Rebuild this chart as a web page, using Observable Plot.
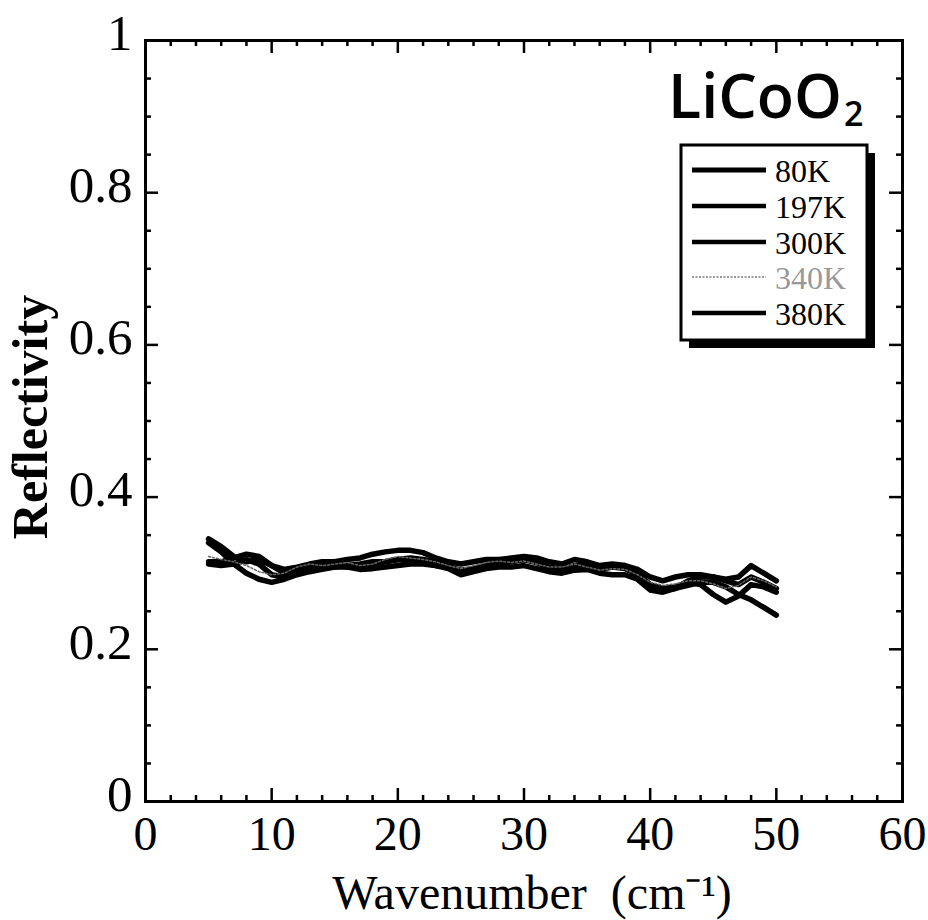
<!DOCTYPE html>
<html>
<head>
<meta charset="utf-8">
<script src="https://cdn.jsdelivr.net/npm/d3@7"></script>
<script src="https://cdn.jsdelivr.net/npm/@observablehq/plot@0.6"></script>
<style>
  body { margin: 0; background: #fff; }
  #chart { position: relative; width: 928px; height: 920px; }
</style>
</head>
<body>
<div id="chart"></div>
<script>
// ---- data ----
const wavenumber = [5,6,7,8,9,10,11,12,13,14,15,16,17,18,19,20,21,22,23,24,25,26,27,28,29,30,31,32,33,34,35,36,37,38,39,40,41,42,43,44,45,46,47,48,49,50];
const r80K  = [.345,.335,.322,.315,.318,.31,.305,.308,.312,.315,.315,.318,.32,.325,.328,.33,.33,.327,.32,.315,.312,.315,.318,.318,.32,.322,.32,.315,.312,.318,.315,.31,.312,.31,.305,.295,.29,.295,.298,.298,.295,.292,.295,.31,.30,.29];
const r197K = [.315,.315,.32,.325,.322,.31,.30,.302,.308,.31,.308,.31,.312,.315,.315,.318,.32,.318,.315,.31,.302,.305,.31,.312,.315,.318,.315,.308,.305,.31,.31,.305,.308,.31,.30,.285,.28,.282,.288,.285,.272,.262,.27,.285,.282,.275];
const r300K = [.34,.328,.312,.30,.292,.288,.292,.298,.302,.305,.308,.308,.305,.306,.308,.31,.312,.312,.31,.306,.298,.302,.306,.308,.308,.31,.306,.302,.30,.304,.305,.30,.298,.298,.292,.278,.275,.28,.29,.295,.295,.29,.285,.295,.288,.28];
const r340K = [.322,.318,.315,.31,.302,.298,.30,.308,.312,.31,.312,.314,.31,.312,.318,.322,.32,.318,.315,.31,.306,.31,.314,.316,.314,.316,.312,.308,.308,.312,.308,.304,.306,.305,.298,.288,.284,.286,.29,.29,.286,.28,.284,.295,.29,.282];
const r380K = [.312,.31,.312,.318,.312,.298,.295,.30,.306,.312,.31,.308,.31,.312,.315,.318,.316,.314,.31,.308,.304,.306,.31,.313,.316,.318,.314,.308,.304,.308,.31,.306,.308,.306,.298,.284,.278,.28,.284,.288,.288,.282,.272,.265,.255,.245];
const seriesNames = ["80K","197K","300K","340K","380K"];
const seriesValues = [r80K, r197K, r300K, r340K, r380K];

const xMajorTicks = [0,10,20,30,40,50,60];
const xMinorTicks = [2,4,6,8,12,14,16,18,22,24,26,28,32,34,36,38,42,44,46,48,52,54,56,58];
const yMajorTicks = [0,0.2,0.4,0.6,0.8,1];
const yTickLabels = ["0","0.2","0.4","0.6","0.8","1"];
const yMinorTicks = [0.05,0.1,0.15,0.25,0.3,0.35,0.45,0.5,0.55,0.65,0.7,0.75,0.85,0.9,0.95];

const xLabel = "Wavenumber\u00a0 (cm\u207B\u00B9)";
const yLabel = "Reflectivity";
const titleMain = "LiCoO";
const titleSub = "2";

// ---- table ----
const rows = [];
seriesNames.forEach((s, i) => {
  wavenumber.forEach((w, j) => rows.push({series: s, wavenumber: w, reflectivity: seriesValues[i][j]}));
});
const solidRows = rows.filter(d => d.series !== "340K");
const dottedRows = rows.filter(d => d.series === "340K");

const serif = "'Liberation Serif', 'Times New Roman', serif";

const W = 928, H = 920, mL = 145, mR = 26, mT = 40, mB = 119;
const plotW = W - mL - mR, plotH = H - mT - mB;
const majorLen = 13, minorLen = 6;
const tk = {stroke: "#000", strokeWidth: 2.5};

const chart = Plot.plot({
  width: W,
  height: H,
  marginLeft: mL,
  marginRight: mR,
  marginTop: mT,
  marginBottom: mB,
  style: {fontFamily: serif, background: "#fff", color: "#000"},
  x: {domain: [0, 60], axis: null},
  y: {domain: [0, 1], axis: null},
  marks: [
    Plot.line(solidRows, {x: "wavenumber", y: "reflectivity", z: "series", stroke: "#000", strokeWidth: 5.5, strokeLinejoin: "round", strokeLinecap: "round"}),
    Plot.line(dottedRows, {x: "wavenumber", y: "reflectivity", stroke: "#666", strokeWidth: 1.5, strokeDasharray: "2,2"}),
    // inward ticks: bottom
    Plot.tickX(xMajorTicks, {x: d => d, insetTop: plotH - majorLen, ...tk}),
    Plot.tickX(xMinorTicks, {x: d => d, insetTop: plotH - minorLen, ...tk}),
    // top
    Plot.tickX(xMajorTicks, {x: d => d, insetBottom: plotH - majorLen, ...tk}),
    Plot.tickX(xMinorTicks, {x: d => d, insetBottom: plotH - minorLen, ...tk}),
    // left
    Plot.tickY(yMajorTicks, {y: d => d, insetRight: plotW - majorLen, ...tk}),
    Plot.tickY(yMinorTicks, {y: d => d, insetRight: plotW - minorLen, ...tk}),
    // right
    Plot.tickY(yMajorTicks, {y: d => d, insetLeft: plotW - majorLen, ...tk}),
    Plot.tickY(yMinorTicks, {y: d => d, insetLeft: plotW - minorLen, ...tk}),
    Plot.frame({stroke: "#000", strokeWidth: 3}),
    // tick labels
    Plot.text(xMajorTicks, {x: d => d, frameAnchor: "bottom", lineAnchor: "top", dy: 14, text: d => String(d), fontSize: 48, fill: "#000"}),
    Plot.text(yMajorTicks, {y: d => d, frameAnchor: "left", textAnchor: "end", dx: -13, dy: -7, text: (d, i) => yTickLabels[i], fontSize: 51, fill: "#000"}),
    // axis labels
    Plot.text([yLabel], {text: d => d, frameAnchor: "left", textAnchor: "middle", rotate: -90, dx: -115, dy: -4, fontSize: 50, fontWeight: "bold", fill: "#000"}),
    Plot.text([xLabel], {text: d => d, frameAnchor: "bottom", textAnchor: "middle", lineAnchor: "bottom", dx: 8, dy: 107, fontSize: 48, fill: "#000"})
  ]
});

document.getElementById("chart").appendChild(chart);

// ---- title and legend (layout elements) ----
const svg = d3.select(chart);
const title = svg.append("text")
  .attr("x", 668).attr("y", 118)
  .attr("text-anchor", "start")
  .attr("font-family", "'Open Sans', 'Noto Sans', sans-serif")
  .attr("font-weight", 600)
  .attr("font-size", 61)
  .attr("fill", "#000");
title.append("tspan").text(titleMain);
title.append("tspan").attr("font-size", 34).attr("dy", 8).attr("dx", 2).text(titleSub);

const lg = svg.append("g");
const box = {x: 681, y: 145, w: 186, h: 195, shadow: 8};
lg.append("rect").attr("x", box.x + box.shadow).attr("y", box.y + box.shadow)
  .attr("width", box.w).attr("height", box.h).attr("fill", "#000");
lg.append("rect").attr("x", box.x).attr("y", box.y)
  .attr("width", box.w).attr("height", box.h).attr("fill", "#fff")
  .attr("stroke", "#000").attr("stroke-width", 3);
const rowY = [170, 206, 242, 277, 313];
seriesNames.forEach((s, i) => {
  const dotted = s === "340K";
  lg.append("line").attr("x1", 692).attr("x2", 766).attr("y1", rowY[i]).attr("y2", rowY[i])
    .attr("stroke", dotted ? "#777" : "#000")
    .attr("stroke-width", dotted ? 1.5 : (i === 0 ? 5 : 4.5))
    .attr("stroke-dasharray", dotted ? "2,1.5" : null);
  lg.append("text").attr("x", 775).attr("y", rowY[i] + 12)
    .attr("text-anchor", "start")
    .attr("font-family", serif).attr("font-size", 32)
    .attr("fill", dotted ? "#999" : "#000")
    .attr("font-weight", dotted ? 300 : null)
    .text(s);
});
</script>
</body>
</html>
